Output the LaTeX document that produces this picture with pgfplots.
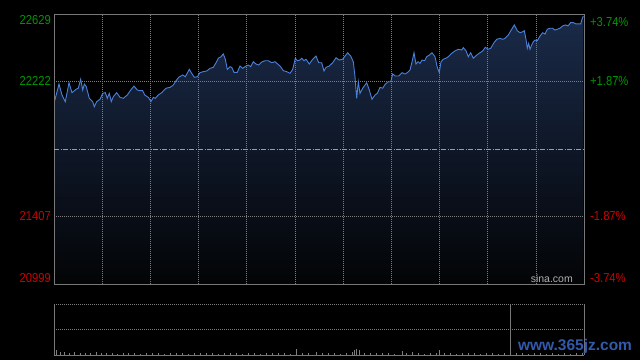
\documentclass[border=0pt]{standalone}
\usepackage{pgfplots}
\pgfplotsset{compat=1.18}
\usepackage{pgfplotstable}
\usepackage{fontspec}
\setmainfont{Liberation Sans}
\newfontfamily\labelfont[FakeStretch=0.86]{Liberation Sans}
\definecolor{upgreen}{RGB}{0,150,0}
\definecolor{downred}{RGB}{205,0,0}
\definecolor{lineblue}{RGB}{74,128,218}
\definecolor{framegray}{RGB}{120,120,120}
\definecolor{gridgray}{RGB}{125,125,125}
\definecolor{midgray}{RGB}{150,158,168}
\definecolor{filltop}{RGB}{26,42,72}
\definecolor{fillbot}{RGB}{3,4,6}
\definecolor{wmblue}{RGB}{50,90,170}

\pgfplotstableread{
x y
0.7 22106
5 22206
8 22140
11.3 22100
15 22214
18 22154
22 22174
24.3 22181
26.7 22235
28.7 22170
30.3 22206
32.3 22190
35.3 22120
38.7 22100
40.3 22069
42.7 22100
46 22114
48.7 22150
51.3 22154
53.3 22120
55.3 22150
57.3 22100
59.3 22130
62.7 22154
66 22126
69.3 22120
73.3 22140
76.7 22170
80 22194
83.3 22170
86 22166
88.7 22166
90.7 22140
94.3 22126
97 22100
99.3 22126
101.3 22120
104.3 22140
107.7 22154
112 22181
116 22186
119.3 22200
122 22226
124.7 22247
128.7 22261
131.3 22250
135.3 22295
137.7 22271
140.3 22247
143.3 22250
146 22275
149.3 22281
152.7 22285
156 22301
159.3 22307
161.7 22331
164.3 22362
167 22371
169.3 22388
171.3 22356
173.3 22295
176 22311
177.7 22307
180 22277
183.3 22277
186 22315
188.7 22301
192 22315
194.3 22321
196.7 22311
199.3 22341
202 22327
204.7 22321
207.7 22339
211 22347
214.3 22347
217.7 22335
221 22341
223.7 22327
226 22315
229.3 22287
232.7 22281
236 22271
238.7 22295
241.3 22362
243.3 22347
246 22351
247.7 22362
250 22347
252 22356
255.3 22327
258.7 22356
262 22375
264.7 22335
267.7 22335
270 22285
272 22307
275.3 22315
278.7 22335
282 22365
285.3 22351
288.7 22356
291 22375
293.7 22395
296.7 22375
299.3 22341
301 22250
302.7 22120
304.3 22220
306 22150
308.7 22181
312.7 22214
315.3 22170
318 22114
321 22140
323.3 22150
326 22186
328.7 22181
331.3 22206
334.3 22220
336.7 22220
338.7 22267
341.3 22255
344.7 22255
348 22275
351 22267
353.3 22275
356 22291
358 22340
360 22395
362 22327
364 22341
366 22331
368 22351
370.7 22347
372.7 22371
375.3 22381
378 22395
381 22371
383.3 22307
385.3 22275
387 22341
389.3 22356
392 22362
394.3 22371
397.7 22392
401 22406
404.3 22416
407.7 22412
409.3 22426
412 22407
414.3 22371
416.7 22395
419.3 22362
422.7 22381
426 22395
428.7 22406
431.3 22428
434 22416
436.7 22422
440 22456
442.7 22476
446 22482
448.7 22476
451 22482
454.3 22502
457.7 22537
460.3 22563
463.3 22528
466 22516
468.7 22522
470.3 22528
472 22476
473.3 22422
474.7 22452
476 22416
477.7 22442
479.3 22462
481 22472
483.3 22468
486 22496
488.7 22516
491 22508
493.3 22537
496 22543
498.7 22543
501 22532
503.3 22537
506 22543
508.7 22557
511.3 22563
514 22557
516.7 22577
519.3 22577
522 22569
524.7 22569
526.7 22569
528 22597
529.3 22617
}\price

\pgfplotstableread{
x v
2 10
6 6
10 5
15 4
20 5
26 3
31 4
36 3
42 5
47 3
52 4
58 3
63 2
69 3
74 4
80 3
86 2
92 4
98 3
104 3
110 2
116 3
122 4
128 3
134 2
140 3
146 4
152 3
158 3
164 2
170 3
176 4
182 3
188 2
194 3
200 3
206 2
212 3
218 4
224 3
230 3
236 2
242 11
248 4
254 3
262 6
268 3
274 4
280 3
286 2
292 4
298 5
300 10
302 12
305 9
310 4
316 3
322 3
328 4
334 3
340 2
348 7
352 3
358 6
364 3
370 2
376 3
382 4
385 9
390 3
396 3
402 2
408 3
414 4
420 3
426 2
432 3
438 3
444 2
450 3
456 3
462 4
468 3
474 2
480 3
486 3
492 2
498 3
504 2
510 3
516 2
522 3
528 4
}\volume

\begin{document}
\begin{tikzpicture}[x=1pt,y=1pt]
\fill[black] (0,0) rectangle (640,360);
\useasboundingbox (0,0) rectangle (640,360);

% main price panel
\begin{axis}[
  at={(54pt,76pt)}, anchor=south west, scale only axis,
  width=530pt, height=270pt,
  xmin=0, xmax=530, ymin=20999, ymax=22629,
  scaled ticks=false,
  axis on top,
  axis line style={draw=framegray, line width=0.8pt},
  xtick={48.18,96.36,144.55,192.73,240.91,289.09,337.27,385.45,433.64,481.82},
  xticklabel=\empty,
  ytick={21407,22222},
  yticklabels={\textcolor{downred}{21407},\textcolor{upgreen}{22222}},
  extra y ticks={21814}, extra y tick labels={},
  extra y tick style={major grid style={draw=midgray, line width=0.7pt, dash pattern=on 5pt off 1.5pt on 1pt off 1.5pt}},
  grid=major,
  major grid style={draw=gridgray, line width=0.6pt, dash pattern=on 1pt off 1pt},
  major tick length=0pt,
  /pgf/number format/assume math mode=true,
  yticklabel style={font=\labelfont\fontsize{13}{13}\selectfont, anchor=east, inner sep=0pt, xshift=-3pt},
  clip=false,
]
\addplot[draw=none, top color=filltop, bottom color=fillbot] table[x=x,y=y] {\price} \closedcycle;
\addplot[lineblue, line width=0.9pt] table[x=x,y=y] {\price};
\node[anchor=north east, inner sep=0pt, text=upgreen, font=\labelfont\fontsize{13}{13}\selectfont]
  at ([xshift=-3pt,yshift=-1.7pt]rel axis cs:0,1) {22629};
\node[anchor=south east, inner sep=0pt, text=downred, font=\labelfont\fontsize{13}{13}\selectfont]
  at ([xshift=-3pt,yshift=1.3pt]rel axis cs:0,0) {20999};
\node[anchor=north west, inner sep=0pt, text=upgreen, font=\labelfont\fontsize{13}{13}\selectfont]
  at ([xshift=6pt,yshift=-2.8pt]rel axis cs:1,1) {+3.74\%};
\node[anchor=south west, inner sep=0pt, text=downred, font=\labelfont\fontsize{13}{13}\selectfont]
  at ([xshift=6pt,yshift=1.3pt]rel axis cs:1,0) {-3.74\%};
\node[anchor=south east, inner sep=0pt, text={rgb,255:red,175;green,175;blue,175}, font=\fontsize{10.5}{10.5}\selectfont]
  at ([xshift=-11pt,yshift=1.5pt]rel axis cs:1,0) {sina.com};
\end{axis}

% right percentage scale
\begin{axis}[
  at={(54pt,76pt)}, anchor=south west, scale only axis,
  width=530pt, height=270pt,
  xmin=0, xmax=530, ymin=-3.74, ymax=3.74,
  scaled ticks=false,
  axis y line*=right, hide x axis,
  axis line style={draw=none},
  ytick={-1.87,1.87},
  yticklabels={\textcolor{downred}{-1.87\%},\textcolor{upgreen}{+1.87\%}},
  major tick length=0pt,
  /pgf/number format/assume math mode=true,
  yticklabel style={font=\labelfont\fontsize{13}{13}\selectfont, anchor=west, inner sep=0pt, xshift=6pt},
]
\end{axis}

% lower volume panel
\begin{axis}[
  at={(54pt,5pt)}, anchor=south west, scale only axis,
  width=530pt, height=51pt,
  xmin=0, xmax=530, ymin=0, ymax=100,
  scaled ticks=false,
  axis line style={draw=none},
  xtick={456}, xticklabel=\empty,
  ytick={50,100}, yticklabel=\empty,
  xmajorgrids, ymajorgrids,
  major x grid style={draw=framegray, line width=0.8pt},
  major y grid style={draw=gridgray, line width=0.8pt, dash pattern=on 1pt off 1pt},
  major tick length=0pt,
  clip=false,
]
\addplot[ycomb, draw=gray, line width=0.7pt, mark=none] table[x=x,y=v] {\volume};
\draw[framegray, line width=0.8pt] (rel axis cs:0,0) -- (rel axis cs:0,1);
\draw[framegray, line width=0.8pt] (rel axis cs:1,0) -- (rel axis cs:1,1);
\draw[framegray, line width=0.8pt] (rel axis cs:0,0) -- (rel axis cs:1,0);
\end{axis}

\node[text=wmblue, font=\bfseries\fontsize{15.5}{15.5}\selectfont, inner sep=0pt] at (575,14) {www.365jz.com};
\end{tikzpicture}
\end{document}
